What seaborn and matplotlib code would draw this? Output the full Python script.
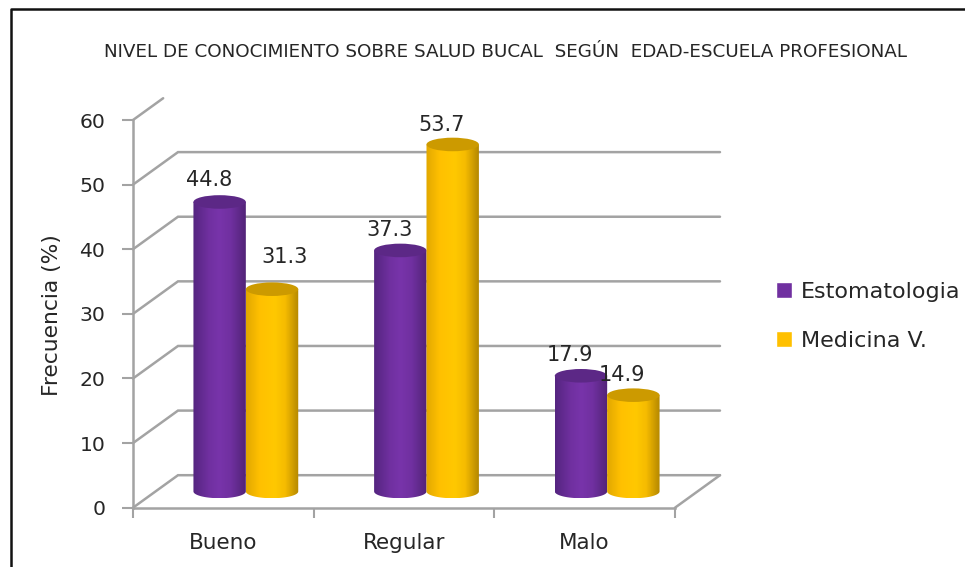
# -*- coding: utf-8 -*-
#Cylinder bar chart, nivel de conocimiento
import numpy as np
import pandas as pd
import seaborn as sns
import matplotlib
matplotlib.use('Agg')
import matplotlib.pyplot as plt
from matplotlib.lines import Line2D
from matplotlib.patches import Ellipse
from matplotlib.path import Path
from matplotlib.colors import LinearSegmentedColormap

#Data
niveles=['Bueno','Regular','Malo']
escuelas=['Estomatologia','Medicina V.']
estomatologia=[44.8,37.3,17.9]
medicina=[31.3,53.7,14.9]
yTicks=[0,10,20,30,40,50,60]
titulo='NIVEL DE CONOCIMIENTO SOBRE SALUD BUCAL  SEGÚN  EDAD-ESCUELA PROFESIONAL'

df=pd.DataFrame({'nivel':niveles*2,
                 'escuela':[escuelas[0]]*3+[escuelas[1]]*3,
                 'frecuencia':estomatologia+medicina})

#Setup
sns.set_style('white')
plt.rcParams['font.family']=['DejaVu Sans']
gridColor='#a3a3a3'
textColor='#262626'
colores={escuelas[0]:'#7030a0',escuelas[1]:'#ffc000'}
#shading across each cylinder, edge to edge
rampas=[[(0,'#552580'),(0.3,'#7030a0'),(0.5,'#7834aa'),(0.72,'#7030a0'),(1,'#522478')],
        [(0,'#e2a800'),(0.25,'#ffc000'),(0.55,'#ffc800'),(0.75,'#f5bb00'),(1,'#b58800')]]
tapas=['#5c2886','#cc9a00']

W,H=965,567
fig=plt.figure(figsize=(W/100,H/100),dpi=100)
ax=fig.add_axes([133/W,(H-507.7)/H,542/W,387.7/H])

sns.barplot(data=df,x='nivel',y='frecuencia',hue='escuela',order=niveles,
            hue_order=escuelas,palette=colores,saturation=1,width=0.58,gap=0,ax=ax)
ax.set_xlim(-0.5,2.5)
ax.set_ylim(0,60)

#depth of the 3d box in data units
dx=45/(542/3)
dy=32.5/(387.7/60)
#lid half height in data units
ry=1.05

#Back wall and floor
for v in yTicks[:-1]:
    ax.plot([-0.5,-0.5+dx,2.5+dx],[v,v+dy,v+dy],color=gridColor,lw=1.8,zorder=1,clip_on=False,solid_joinstyle='miter')
ax.plot([-0.5,-0.5+dx*0.67],[60,60+dy*0.67],color=gridColor,lw=1.8,zorder=1,clip_on=False)
ax.plot([2.5,2.5+dx],[0,dy],color=gridColor,lw=1.8,zorder=1,clip_on=False)

#Cylinders drawn from the bars seaborn made
for i,container in enumerate(ax.containers):
    cmap=LinearSegmentedColormap.from_list('c'+str(i),rampas[i])
    grad=np.linspace(0,1,64).reshape(1,-1)
    for bar in container:
        x0=bar.get_x()+dx/2
        w=bar.get_width()
        h=bar.get_height()+dy/2
        bar.set_visible(False)
        t=np.linspace(np.pi,0,40)
        arcX=x0+w/2+w/2*np.cos(t)
        arcY=dy/2-ry*np.sin(t)
        verts=np.column_stack([np.r_[x0,arcX,x0+w,x0],np.r_[h,arcY,h,h]])
        im=ax.imshow(grad,cmap=cmap,extent=[x0,x0+w,dy/2-ry,h],aspect='auto',zorder=3+i,interpolation='bilinear')
        im.set_clip_path(Path(verts),ax.transData)
        ax.add_patch(Ellipse((x0+w/2,h),w,2*ry,facecolor=tapas[i],edgecolor='none',zorder=3+i))
ax.set_xlim(-0.5,2.5)
ax.set_ylim(0,60)

#Value labels, hand placed in the original
desplaza=[[(-11,22),(-11,20),(-11,21)],[(13,32),(-11,19),(-11,20)]]
for i,container in enumerate(ax.containers):
    for j,bar in enumerate(container):
        ax.annotate('%.1f'%bar.get_height(),(bar.get_x()+bar.get_width()/2+dx/2,bar.get_height()+dy/2),
                    xytext=(desplaza[i][j][0]*0.72,desplaza[i][j][1]*0.72),textcoords='offset points',
                    ha='center',va='center',fontsize=15,color=textColor,zorder=10)

#Axes
sns.despine(ax=ax)
for s in ['left','bottom']:
    ax.spines[s].set_color(gridColor)
    ax.spines[s].set_linewidth(1.8)
ax.set_yticks(yTicks)
ax.tick_params(axis='y',left=True,length=8,width=1.5,color=gridColor,labelsize=14.7,labelcolor=textColor,pad=12)
ax.set_xticks(range(3))
ax.set_xticklabels(niveles)
ax.set_xticks([-0.5,0.5,1.5,2.5],minor=True)
ax.tick_params(axis='x',which='major',bottom=False,labelsize=15.5,labelcolor=textColor,pad=15)
ax.tick_params(axis='x',which='minor',bottom=True,length=7,width=1.5,color=gridColor)
ax.set_xlabel('')
ax.set_ylabel('')

#Legend
sns.move_legend(ax,loc='upper left',bbox_to_anchor=(765/W,(H-271)/H),bbox_transform=fig.transFigure,
                title=None,frameon=False,fontsize=16,labelspacing=1.3,handlelength=0.73,handleheight=0.73,
                handletextpad=0.4,borderpad=0,labelcolor=textColor)

fig.text(506/W,(H-52)/H,titulo,ha='center',va='center',fontsize=13.2,color=textColor)
fig.text(52/W,(H-315)/H,'Frecuencia (%)',rotation=90,ha='center',va='center',fontsize=15.7,color=textColor)

#Outer frame, only top and left show
fig.add_artist(Line2D([11/W,11/W,1],[0,(H-8.5)/H,(H-8.5)/H],color='#111111',lw=1.8,transform=fig.transFigure))

fig.savefig('out.png',dpi=100)
